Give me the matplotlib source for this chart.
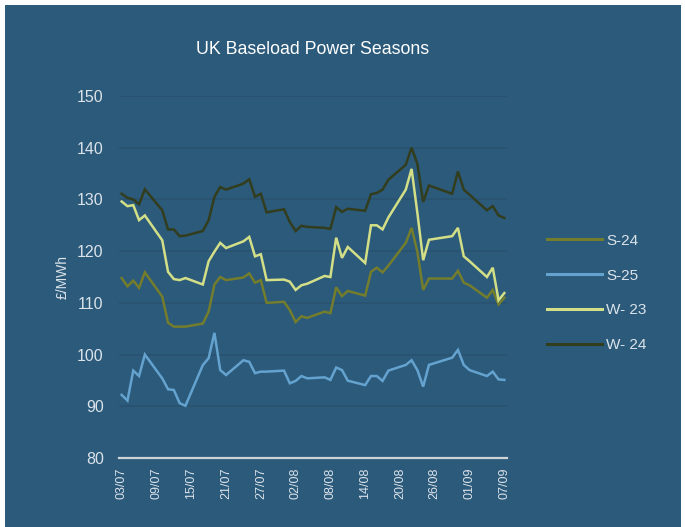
import matplotlib
matplotlib.use('Agg')
import matplotlib.pyplot as plt
import matplotlib.dates as mdates
import pandas as pd
from matplotlib.patches import Rectangle

# ---- data ----
dates = pd.bdate_range('2023-07-03', '2023-09-07')
dates = dates[dates != pd.Timestamp('2023-08-28')]

s24 = [114.8, 113.2, 114.3, 112.9, 115.9, 111.2, 106.15, 105.4, 105.4, 105.4,
       106.0, 108.3, 113.55, 115.0, 114.4, 114.9, 115.7, 113.9, 114.4, 110.0,
       110.2, 108.6, 106.3, 107.4, 107.1, 108.3, 108.0, 113.0, 111.3, 112.3,
       111.4, 116.0, 116.8, 115.9, 117.2, 121.6, 124.5, 119.9, 112.5, 114.7,
       114.7, 116.2, 113.9, 113.4, 111.0, 112.5, 109.7, 111.0]
s25 = [92.2, 91.1, 96.9, 95.85, 100.0, 95.4, 93.3, 93.15, 90.6, 90.1,
       97.97, 99.3, 104.2, 97.0, 96.05, 98.9, 98.6, 96.4, 96.7, 96.7,
       96.9, 94.45, 94.9, 95.85, 95.4, 95.6, 95.1, 97.5, 97.0, 94.95,
       94.1, 95.85, 95.85, 94.9, 96.9, 98.0, 98.9, 97.0, 93.8, 98.0,
       99.4, 100.9, 98.0, 97.0, 95.85, 96.7, 95.2, 95.1]
w23 = [129.6, 128.7, 128.9, 126.0, 126.9, 122.1, 116.0, 114.6, 114.4, 114.8,
       113.55, 118.05, 119.9, 121.6, 120.6, 121.9, 122.75, 119.0, 119.4, 114.4,
       114.5, 114.1, 112.5, 113.4, 113.7, 115.2, 115.0, 122.6, 118.7, 120.8,
       117.7, 125.0, 125.0, 124.2, 126.5, 131.9, 135.9, 127.4, 118.25, 122.2,
       122.9, 124.5, 119.0, 118.05, 115.0, 116.8, 110.5, 111.9]
w24 = [131.1, 130.3, 130.0, 129.06, 131.96, 127.9, 124.2, 124.2, 122.9, 123.0,
       123.9, 126.0, 130.5, 132.4, 131.9, 133.05, 133.9, 130.5, 131.1, 127.5,
       128.1, 125.65, 123.9, 124.9, 124.7, 124.5, 124.3, 128.5, 127.6, 128.2,
       127.8, 131.0, 131.25, 131.9, 133.8, 136.7, 140.0, 136.9, 129.5, 132.7,
       131.1, 135.4, 131.9, 130.9, 127.9, 128.7, 126.9, 126.4]

series_labels = ['S-24', 'S-25', 'W- 23', 'W- 24']
series_values = [s24, s25, w23, w24]
series_colors = ['#737d2c', '#64a3cf', '#d3df87', '#323d1d']

tick_dates = pd.date_range('2023-07-03', '2023-09-07', freq='6D')
yticks = [80, 90, 100, 110, 120, 130, 140, 150]

# ---- style ----
BG = '#2c5a7b'
GRID = '#29536f'
TXT = '#dbe3ea'
plt.rcParams['font.family'] = ['Liberation Sans', 'DejaVu Sans']

W, H = 685, 527
fig = plt.figure(figsize=(W / 100, H / 100), dpi=100)
fig.patch.set_facecolor('white')
fig.patches.append(Rectangle((5 / W, 0), (681 - 5) / W, (527 - 5) / H,
                             transform=fig.transFigure, facecolor=BG,
                             edgecolor='none', zorder=-10))

ax = fig.add_axes([119 / W, (H - 458) / H, 388 / W, 362 / H])
ax.set_facecolor(BG)

for lab, vals, col in zip(series_labels, series_values, series_colors):
    ax.plot(dates, vals, color=col, lw=1.8, label=lab, solid_joinstyle='miter')

ax.set_ylim(80, 150)
ax.set_yticks(yticks)
ax.set_xlim(pd.Timestamp('2023-07-03') - pd.Timedelta(hours=11),
            pd.Timestamp('2023-09-07') + pd.Timedelta(hours=11))
ax.set_xticks(tick_dates)
ax.xaxis.set_major_formatter(mdates.DateFormatter('%d/%m'))
plt.setp(ax.get_xticklabels(), rotation=90)

ax.grid(axis='y', color=GRID, lw=1.3)
ax.grid(axis='x', visible=False)
ax.set_axisbelow(True)
for s in ['top', 'right', 'left']:
    ax.spines[s].set_visible(False)
ax.spines['bottom'].set_color('#cfd4d8')
ax.spines['bottom'].set_linewidth(1.6)
ax.tick_params(axis='y', length=0, pad=11, labelsize=11.5, labelcolor=TXT)
ax.tick_params(axis='x', length=0, pad=7, labelsize=9, labelcolor=TXT)

ax.set_ylabel('£/MWh', color=TXT, fontsize=10, labelpad=5)

fig.text(313 / W, 1 - 49 / H, 'UK Baseload Power Seasons', color='white',
         fontsize=12.8, ha='center', va='center')

leg = fig.legend(*ax.get_legend_handles_labels(), loc='center left',
                 bbox_to_anchor=(533 / W, 1 - 293 / H),
                 frameon=False, fontsize=11, labelcolor=TXT, handlelength=3.6,
                 handletextpad=0.3, labelspacing=1.36)
for l in leg.get_lines():
    l.set_linewidth(2.2)

fig.savefig('out.png', dpi=100, facecolor=fig.get_facecolor())
